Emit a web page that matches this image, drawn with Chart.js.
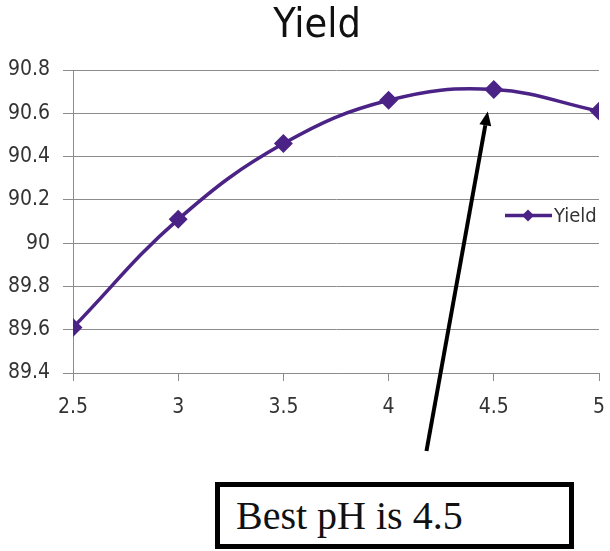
<!DOCTYPE html>
<html>
<head>
<meta charset="utf-8">
<script src="https://cdn.jsdelivr.net/npm/chart.js@4.4.0/dist/chart.umd.min.js"></script>
<style>
  html, body { margin: 0; padding: 0; background: #fff; }
  #wrap { position: relative; width: 610px; height: 551px; }
  #note {
    position: absolute; left: 215px; top: 482px; width: 333px; height: 57px;
    border: 5px solid #000; background: #fff; padding-left: 16px;
    font-family: "Liberation Serif", "Times New Roman", serif; font-size: 40px;
    line-height: 57px; color: #111; white-space: nowrap;
  }
</style>
</head>
<body>
<div id="wrap">
  <canvas id="c" width="610" height="551"></canvas>
  <div id="note">Best pH is 4.5</div>
</div>
<script>
const chartTitle = "Yield";
const seriesName = "Yield";
const phValues = [2.5, 3, 3.5, 4, 4.5, 5];
const yieldValues = [89.61, 90.11, 90.46, 90.66, 90.71, 90.61];
const xTicks = [2.5, 3, 3.5, 4, 4.5, 5];
const yTicks = [89.4, 89.6, 89.8, 90, 90.2, 90.4, 90.6, 90.8];
const bestPH = 4.5;

const lineColor = '#4b2386';
const fontFamily = '"DejaVu Sans Condensed", "DejaVu Sans", sans-serif';

const overlayPlugin = {
  id: 'overlay',
  afterDraw(chart) {
    const ctx = chart.ctx;
    const xs = chart.scales.x, ys = chart.scales.y;
    const ca = chart.chartArea;
    ctx.save();
    // Title
    ctx.fillStyle = '#111'; ctx.font = '41px ' + fontFamily;
    ctx.textAlign = 'center'; ctx.textBaseline = 'alphabetic';
    ctx.fillText(chartTitle, (ca.left + ca.right) / 2 - 19, 37);
    // Legend overlaid inside the plot, right side, vertical middle
    const ly = (ca.top + ca.bottom) / 2 - 6;
    const lx = ca.right - 94;
    ctx.strokeStyle = lineColor; ctx.lineWidth = 3.5;
    ctx.beginPath(); ctx.moveTo(lx, ly); ctx.lineTo(lx + 47, ly); ctx.stroke();
    ctx.fillStyle = lineColor;
    const cx = lx + 23, r = 6;
    ctx.beginPath(); ctx.moveTo(cx, ly - r); ctx.lineTo(cx + r, ly); ctx.lineTo(cx, ly + r); ctx.lineTo(cx - r, ly); ctx.closePath(); ctx.fill();
    ctx.fillStyle = '#333'; ctx.font = '20px ' + fontFamily; ctx.textBaseline = 'middle'; ctx.textAlign = 'left';
    ctx.fillText(seriesName, lx + 49, ly + 1);
    // Arrow pointing to the best pH point
    const bestIdx = phValues.indexOf(bestPH);
    const tipX = xs.getPixelForValue(bestPH) - 6;
    const tipY = ys.getPixelForValue(yieldValues[bestIdx]) + 22;
    const tailX = xs.getPixelForValue(4.18);
    const tailY = ca.bottom + 78;
    const ang = Math.atan2(tipY - tailY, tipX - tailX);
    ctx.strokeStyle = '#000'; ctx.lineWidth = 4;
    const bx = tipX - Math.cos(ang) * 14, by = tipY - Math.sin(ang) * 14;
    ctx.beginPath(); ctx.moveTo(tailX, tailY); ctx.lineTo(bx, by); ctx.stroke();
    ctx.fillStyle = '#000';
    ctx.beginPath();
    ctx.moveTo(tipX, tipY);
    ctx.lineTo(bx + Math.cos(ang + Math.PI / 2) * 6, by + Math.sin(ang + Math.PI / 2) * 6);
    ctx.lineTo(bx + Math.cos(ang - Math.PI / 2) * 6, by + Math.sin(ang - Math.PI / 2) * 6);
    ctx.closePath(); ctx.fill();
    ctx.restore();
  }
};

new Chart(document.getElementById('c'), {
  type: 'line',
  data: {
    datasets: [{
      label: seriesName,
      data: phValues.map((x, i) => ({ x: x, y: yieldValues[i] })),
      borderColor: lineColor,
      backgroundColor: lineColor,
      borderWidth: 3.5,
      tension: 0.4,
      pointStyle: 'rectRot',
      pointRadius: 7,
      pointHoverRadius: 7,
      fill: false
    }]
  },
  options: {
    responsive: false,
    animation: false,
    events: [],
    layout: { padding: { left: 0, right: 11, top: 70, bottom: 128 } },
    plugins: {
      legend: { display: false },
      tooltip: { enabled: false },
      title: { display: false }
    },
    scales: {
      x: {
        type: 'linear', min: 2.5, max: 5,
        afterBuildTicks: (s) => { s.ticks = xTicks.map(v => ({ value: v })); },
        afterFit: (s) => { s.height = 50; s.paddingLeft = 0; s.paddingRight = 6; },
        ticks: { color: '#333', font: { family: fontFamily, size: 21 }, padding: 14, callback: v => String(v) },
        grid: { drawOnChartArea: false, drawTicks: true, tickLength: 8, color: '#8c8c8c' },
        border: { display: true, color: '#8c8c8c', width: 1 }
      },
      y: {
        type: 'linear', min: 89.4, max: 90.8,
        afterBuildTicks: (s) => { s.ticks = yTicks.map(v => ({ value: v })); },
        afterFit: (s) => { s.width = 73; },
        ticks: { color: '#333', font: { family: fontFamily, size: 21 }, padding: 13, callback: v => String(Math.round(v * 10) / 10) },
        grid: { drawTicks: true, tickLength: 10, color: '#8c8c8c' },
        border: { display: true, color: '#8c8c8c', width: 1 }
      }
    }
  },
  plugins: [overlayPlugin]
});
</script>
</body>
</html>
